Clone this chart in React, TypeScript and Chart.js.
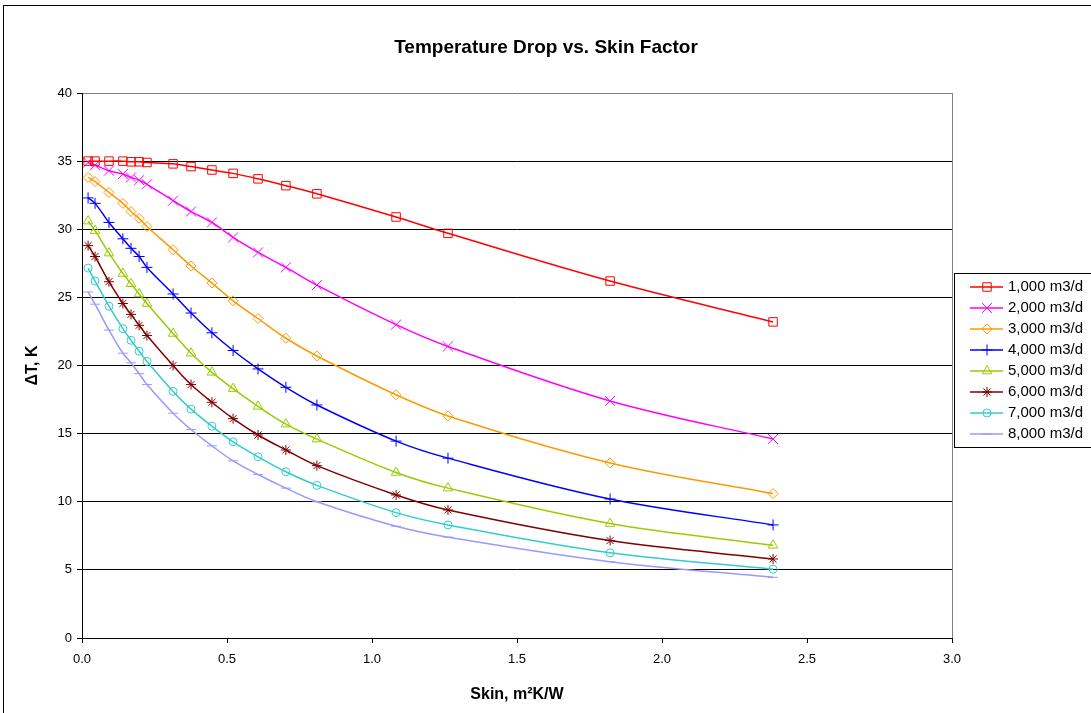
import React, { useEffect, useRef } from 'react';
import { Chart, registerables } from 'chart.js';
import { drawPoint } from 'chart.js/helpers';

Chart.register(...registerables);

const FONT = '"Liberation Sans", Arial, sans-serif';

const chartTitle = 'Temperature Drop vs. Skin Factor';
const xAxisTitle = 'Skin, m²K/W';
const yAxisTitle = 'ΔT, K';

// Skin factor (x values), shared by all series
const skin = [0.021, 0.045, 0.093, 0.141, 0.169, 0.197, 0.224, 0.314, 0.376, 0.448, 0.521, 0.607, 0.703, 0.81, 1.083, 1.262, 1.821, 2.383];

const seriesLabels = ['1,000 m3/d', '2,000 m3/d', '3,000 m3/d', '4,000 m3/d', '5,000 m3/d', '6,000 m3/d', '7,000 m3/d', '8,000 m3/d'];

const q1000 = [35.0, 35.0, 35.0, 35.0, 34.95, 34.95, 34.9, 34.8, 34.6, 34.35, 34.1, 33.7, 33.2, 32.6, 30.9, 29.7, 26.2, 23.2];
const q2000 = [34.9, 34.7, 34.3, 34.05, 33.8, 33.6, 33.3, 32.1, 31.3, 30.5, 29.4, 28.3, 27.2, 25.9, 23.0, 21.4, 17.4, 14.6];
const q3000 = [33.8, 33.5, 32.7, 31.9, 31.3, 30.8, 30.2, 28.5, 27.3, 26.05, 24.75, 23.45, 22.0, 20.7, 17.85, 16.3, 12.85, 10.6];
const q4000 = [32.3, 31.9, 30.5, 29.3, 28.6, 28.0, 27.2, 25.25, 23.85, 22.4, 21.1, 19.75, 18.4, 17.1, 14.45, 13.2, 10.2, 8.3];
const q5000 = [30.6, 29.9, 28.25, 26.75, 26.0, 25.25, 24.55, 22.35, 20.9, 19.5, 18.3, 17.0, 15.7, 14.6, 12.15, 11.0, 8.4, 6.8];
const q6000 = [28.8, 28.0, 26.15, 24.55, 23.75, 22.95, 22.2, 20.0, 18.6, 17.3, 16.1, 14.9, 13.8, 12.65, 10.5, 9.4, 7.15, 5.8];
const q7000 = [27.15, 26.2, 24.35, 22.7, 21.85, 21.05, 20.3, 18.1, 16.8, 15.55, 14.4, 13.3, 12.2, 11.2, 9.2, 8.3, 6.25, 5.05];
const q8000 = [25.4, 24.5, 22.6, 20.9, 20.2, 19.4, 18.6, 16.5, 15.3, 14.1, 13.0, 12.0, 11.0, 10.0, 8.2, 7.4, 5.6, 4.45];

const seriesValues = [q1000, q2000, q3000, q4000, q5000, q6000, q7000, q8000];

const colors = ['#FF0000', '#FF00FF', '#FF9900', '#0000FF', '#99CC00', '#800000', '#33CCCC', '#9999FF'];
const pointStyles = ['rect', 'crossRot', 'rectRot', 'cross', 'triangle', 'star', 'circle', 'line'];
const pointRadii = [6, 7, 5, 5.5, 5.5, 5, 4, 5];

const decorPlugin = {
  id: 'decor',
  afterDraw(chart: any) {
    const ctx = chart.ctx;
    ctx.save();
    ctx.strokeStyle = '#000';
    ctx.lineWidth = 1;
    ctx.strokeRect(3.5, 5.5, 1200, 800);

    ctx.fillStyle = '#000';
    ctx.font = `bold 19px ${FONT}`;
    ctx.textAlign = 'center';
    ctx.textBaseline = 'middle';
    ctx.fillText(chartTitle, 546, 48);

    // legend
    ctx.strokeStyle = '#000';
    ctx.lineWidth = 1;
    ctx.strokeRect(954.5, 273.5, 200, 174);
    chart.data.datasets.forEach((ds: any, i: number) => {
      const y = 287 + 21 * i;
      ctx.strokeStyle = ds.borderColor;
      ctx.lineWidth = 1.5;
      ctx.beginPath();
      ctx.moveTo(970, y);
      ctx.lineTo(1003, y);
      ctx.stroke();
      ctx.lineWidth = 1;
      ctx.fillStyle = 'rgba(0,0,0,0)';
      drawPoint(ctx, { pointStyle: ds.pointStyle, radius: ds.pointRadius, borderWidth: 1, rotation: 0 }, 987, y);
      ctx.fillStyle = '#000';
      ctx.font = `15px ${FONT}`;
      ctx.textAlign = 'left';
      ctx.textBaseline = 'middle';
      ctx.fillText(ds.label, 1008, y);
    });
    ctx.restore();
  },
};

export default function App() {
  const ref = useRef<HTMLCanvasElement | null>(null);
  useEffect(() => {
    if (!ref.current) return;
    Chart.defaults.font.family = FONT;
    const datasets = seriesValues.map((vals, i) => ({
      label: seriesLabels[i],
      data: vals.map((v, j) => ({ x: skin[j], y: v })),
      borderColor: colors[i],
      backgroundColor: colors[i],
      borderWidth: 1.5,
      pointStyle: pointStyles[i],
      pointRadius: pointRadii[i],
      pointBorderColor: colors[i],
      pointBackgroundColor: 'rgba(0,0,0,0)',
      pointBorderWidth: 1,
      tension: 0.35,
      fill: false,
    }));
    const chart = new Chart(ref.current, {
      type: 'line',
      data: { datasets },
      plugins: [decorPlugin],
      options: {
        responsive: false,
        animation: false,
        devicePixelRatio: 1,
        layout: { padding: { left: 0, right: 139, top: 93, bottom: 0 } },
        plugins: { legend: { display: false }, title: { display: false }, tooltip: { enabled: false } },
        scales: {
          x: {
            type: 'linear',
            min: 0,
            max: 3,
            ticks: {
              stepSize: 0.5,
              color: '#000',
              font: { size: 13 },
              padding: 9,
              maxRotation: 0,
              callback: (v: any) => Number(v).toFixed(1),
            },
            grid: {
              drawOnChartArea: true,
              color: (c: any) => (c.tick && c.tick.value === 3 ? '#808080' : 'rgba(0,0,0,0)'),
              tickColor: '#000',
              tickLength: 5,
            },
            border: { color: '#000', width: 1 },
            title: { display: true, text: xAxisTitle, color: '#000', font: { size: 16, weight: 'bold' }, padding: { top: 9, bottom: 9 } },
            afterFit: (s: any) => { s.height = 75; },
          },
          y: {
            type: 'linear',
            min: 0,
            max: 40,
            ticks: { stepSize: 5, color: '#000', font: { size: 13 }, padding: 5 },
            grid: {
              color: (c: any) => (c.tick && c.tick.value === 40 ? '#808080' : '#000'),
              tickColor: '#000',
              tickLength: 5,
            },
            border: { color: '#000', width: 1 },
            title: { display: true, text: yAxisTitle, color: '#000', font: { size: 16, weight: 'bold' }, padding: { top: 23, bottom: 0 } },
            afterFit: (s: any) => { s.width = 82; },
          },
        },
      },
    } as any);
    return () => chart.destroy();
  }, []);
  return (
    <div style={{ position: 'absolute', left: 0, top: 0, width: 1091, height: 713, background: '#fff' }}>
      <canvas ref={ref} width={1091} height={713} style={{ display: 'block' }} />
    </div>
  );
}
